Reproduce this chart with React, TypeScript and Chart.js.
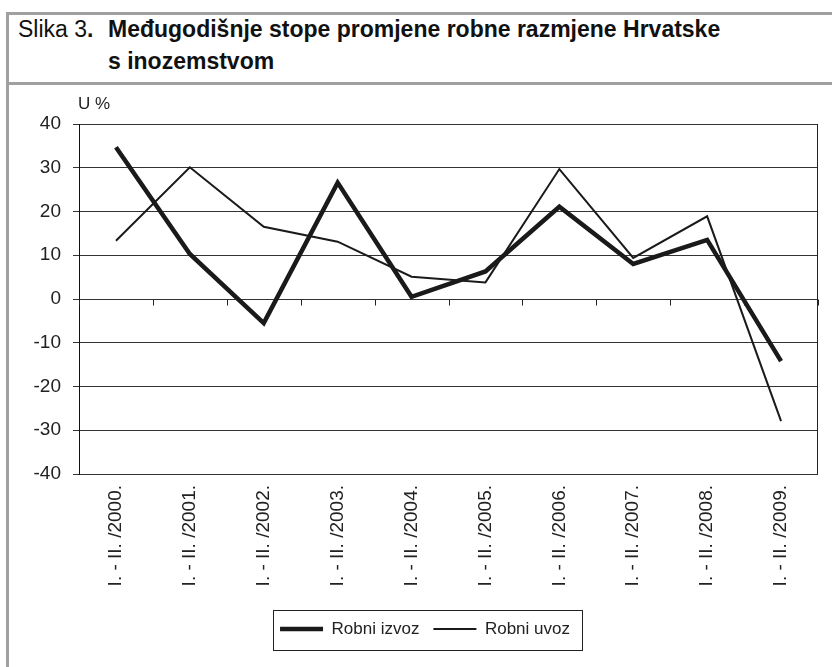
import React, { useEffect, useRef } from "react";
import { Chart, registerables } from "chart.js";

Chart.register(...registerables);

const categories = [
  "I. - II. /2000.",
  "I. - II. /2001.",
  "I. - II. /2002.",
  "I. - II. /2003.",
  "I. - II. /2004.",
  "I. - II. /2005.",
  "I. - II. /2006.",
  "I. - II. /2007.",
  "I. - II. /2008.",
  "I. - II. /2009.",
];
const robniIzvoz = [34.7, 10.3, -5.5, 26.6, 0.5, 6.3, 21.1, 8.0, 13.5, -14.2];
const robniUvoz = [13.3, 30.1, 16.5, 13.1, 5.1, 3.8, 29.7, 9.4, 18.9, -27.9];
const seriesNames = ["Robni izvoz", "Robni uvoz"];
const yMin = -40;
const yMax = 40;
const yStep = 10;
const unitLabel = "U %";

const FONT = "'Liberation Sans', Arial, sans-serif";

const framePlugin = {
  id: "frame",
  beforeDatasetsDraw(chart: any) {
    const { ctx, chartArea, scales } = chart;
    const x = scales.x;
    const y = scales.y;
    const zeroY = Math.round(y.getPixelForValue(0)) + 0.5;
    ctx.save();
    ctx.strokeStyle = "#222";
    ctx.lineWidth = 1;
    ctx.beginPath();
    for (let i = 0; i <= categories.length; i++) {
      const px = Math.round(x.getPixelForValue(i - 0.5)) + 0.5;
      ctx.moveTo(px, zeroY);
      ctx.lineTo(px, zeroY + 6);
    }
    ctx.stroke();
    ctx.beginPath();
    const r = Math.round(chartArea.right) - 0.5;
    ctx.moveTo(r, chartArea.top);
    ctx.lineTo(r, chartArea.bottom);
    ctx.stroke();
    ctx.restore();
  },
  afterDraw(chart: any) {
    const { ctx, chartArea, legend } = chart;
    ctx.save();
    ctx.fillStyle = "#222";
    ctx.font = `17px ${FONT}`;
    ctx.textAlign = "left";
    ctx.textBaseline = "middle";
    ctx.fillText(unitLabel, chartArea.left - 1, chartArea.top - 20);
    const hb = legend && legend.legendHitBoxes;
    if (hb && hb.length) {
      const last = hb[hb.length - 1];
      const l = Math.round(hb[0].left - 7) + 0.5;
      const rr = Math.round(last.left + last.width + 12) + 0.5;
      const cy = hb[0].top + 8.5;
      const t = Math.round(cy - 19.5) + 0.5;
      ctx.strokeStyle = "#222";
      ctx.lineWidth = 1;
      ctx.strokeRect(l, t, rr - l, 40);
    }
    ctx.restore();
  },
};

function LineChart() {
  const ref = useRef<HTMLCanvasElement>(null);
  useEffect(() => {
    if (!ref.current) return;
    const chart = new Chart(ref.current, {
      type: "line",
      data: {
        labels: categories,
        datasets: [
          {
            label: seriesNames[0],
            data: robniIzvoz,
            borderColor: "#1a1a1a",
            backgroundColor: "#1a1a1a",
            borderWidth: 4.5,
            pointRadius: 0,
            tension: 0,
          },
          {
            label: seriesNames[1],
            data: robniUvoz,
            borderColor: "#1a1a1a",
            backgroundColor: "#1a1a1a",
            borderWidth: 2,
            pointRadius: 0,
            tension: 0,
          },
        ],
      },
      options: {
        animation: false,
        responsive: false,
        devicePixelRatio: 1,
        layout: { padding: { left: 32, right: 14, top: 39, bottom: 19.5 } },
        plugins: {
          tooltip: { enabled: false },
          legend: {
            position: "bottom",
            labels: {
              usePointStyle: true,
              pointStyle: "line",
              pointStyleWidth: 43,
              font: { family: FONT, size: 17 },
              color: "#222",
              padding: 14,
            },
          },
        },
        scales: {
          x: {
            type: "category",
            offset: true,
            grid: { display: false, drawTicks: false },
            border: { display: false },
            ticks: {
              font: { family: FONT, size: 19 },
              color: "#222",
              minRotation: 90,
              maxRotation: 90,
              padding: 11,
              autoSkip: false,
            },
            afterFit: (s: any) => {
              s.height = 132.5;
            },
          },
          y: {
            min: yMin,
            max: yMax,
            ticks: {
              stepSize: yStep,
              font: { family: FONT, size: 19 },
              color: "#222",
              padding: 12,
            },
            grid: { color: "#333", lineWidth: 1, tickLength: 6 },
            border: { color: "#111", width: 1 },
            afterFit: (s: any) => {
              s.width = 47;
            },
          },
        },
      },
      plugins: [framePlugin],
    });
    return () => chart.destroy();
  }, []);
  return (
    <canvas
      ref={ref}
      width={832}
      height={582}
      style={{ position: "absolute", left: 0, top: 85, width: 832, height: 582, display: "block" }}
    />
  );
}

export default function App() {
  const gray = "#a0a0a0";
  return (
    <div
      style={{
        position: "absolute",
        left: 0,
        top: 0,
        width: 832,
        height: 667,
        overflow: "hidden",
        background: "#fff",
        fontFamily: FONT,
        color: "#111",
      }}
    >
      <LineChart />
      <div style={{ position: "absolute", left: 6, top: 12, width: 826, height: 3, background: gray }} />
      <div style={{ position: "absolute", left: 6, top: 12, width: 3, height: 655, background: gray }} />
      <div style={{ position: "absolute", left: 6, top: 82, width: 826, height: 3, background: gray }} />
      <div
        style={{
          position: "absolute",
          left: 18,
          top: 13,
          fontSize: 23,
          lineHeight: "32px",
          whiteSpace: "nowrap",
        }}
      >
        Slika 3<b>.</b>
      </div>
      <div
        style={{
          position: "absolute",
          left: 108,
          top: 13,
          fontSize: 23,
          lineHeight: "32px",
          fontWeight: "bold",
          whiteSpace: "nowrap",
        }}
      >
        Međugodišnje stope promjene robne razmjene Hrvatske
        <br />s inozemstvom
      </div>
    </div>
  );
}
